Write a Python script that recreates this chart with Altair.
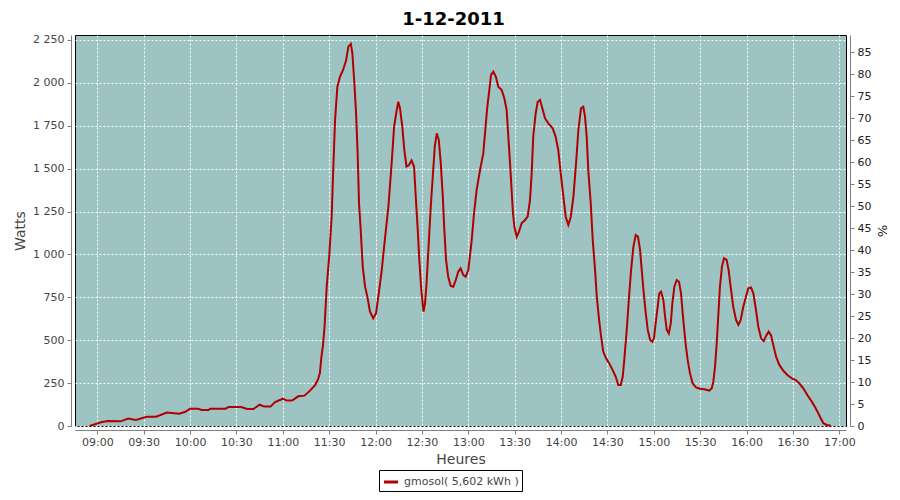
import altair as alt
import pandas as pd

title_text = "1-12-2011"
series_name = "gmosol( 5,602 kWh )"

times = [
    "08:55:00", "09:03:00", "09:07:00", "09:15:00", "09:20:00", "09:25:00", "09:32:00", "09:38:00",
    "09:45:00", "09:53:00", "09:57:00", "10:00:00", "10:05:00", "10:07:30", "10:12:00", "10:13:00",
    "10:23:00", "10:25:00", "10:33:00", "10:37:00", "10:41:00", "10:45:00", "10:48:00", "10:52:00",
    "10:55:00", "11:00:00", "11:02:30", "11:06:00", "11:10:00", "11:14:00", "11:17:36", "11:21:00",
    "11:23:00", "11:24:00", "11:25:00", "11:26:00", "11:27:00", "11:28:24", "11:30:00", "11:31:36",
    "11:32:42", "11:33:48", "11:35:18", "11:37:00", "11:39:00", "11:41:00", "11:42:24", "11:44:00",
    "11:45:00", "11:46:18", "11:47:24", "11:48:24", "11:49:18", "11:50:24", "11:51:42", "11:53:12",
    "11:54:42", "11:56:24", "11:58:30", "12:00:18", "12:01:48", "12:04:00", "12:06:00", "12:08:18",
    "12:10:24", "12:12:00", "12:13:42", "12:14:42", "12:15:48", "12:17:18", "12:18:36", "12:20:00",
    "12:21:36", "12:23:18", "12:24:54", "12:26:00", "12:27:18", "12:28:18", "12:29:36", "12:31:00",
    "12:32:00", "12:33:00", "12:34:24", "12:35:42", "12:37:00", "12:38:18", "12:39:36", "12:40:54",
    "12:42:12", "12:43:30", "12:44:30", "12:45:36", "12:47:00", "12:48:36", "12:50:18", "12:51:54",
    "12:53:30", "12:55:00", "12:56:48", "12:58:18", "13:00:00", "13:01:00", "13:02:12", "13:03:42",
    "13:05:24", "13:07:36", "13:09:42", "13:10:48", "13:12:18", "13:13:36", "13:14:42", "13:16:12",
    "13:17:48", "13:19:24", "13:21:36", "13:23:18", "13:24:48", "13:25:54", "13:27:00", "13:28:00",
    "13:28:54", "13:29:48", "13:31:18", "13:32:48", "13:34:30", "13:36:42", "13:38:24", "13:39:54",
    "13:41:00", "13:42:00", "13:43:36", "13:44:54", "13:46:24", "13:47:54", "13:49:36", "13:51:48",
    "13:54:36", "13:56:30", "13:58:12", "13:59:48", "14:01:30", "14:03:00", "14:04:42", "14:06:18",
    "14:08:00", "14:09:42", "14:11:12", "14:12:54", "14:14:24", "14:15:30", "14:16:36", "14:17:36",
    "14:19:12", "14:20:30", "14:22:00", "14:23:06", "14:24:36", "14:25:54", "14:27:18", "14:29:06",
    "14:31:12", "14:33:24", "14:35:24", "14:37:00", "14:38:36", "14:39:54", "14:40:54", "14:42:30",
    "14:44:00", "14:45:18", "14:46:48", "14:48:18", "14:49:48", "14:51:06", "14:52:12", "14:53:18",
    "14:54:48", "14:56:06", "14:57:36", "14:59:00", "15:00:06", "15:01:12", "15:02:30", "15:03:30",
    "15:04:42", "15:06:12", "15:07:18", "15:08:24", "15:09:42", "15:11:00", "15:12:00", "15:13:18",
    "15:14:48", "15:16:18", "15:17:36", "15:18:42", "15:19:42", "15:20:48", "15:21:54", "15:23:24",
    "15:25:06", "15:27:18", "15:29:54", "15:32:30", "15:34:36", "15:35:54", "15:37:30", "15:38:30",
    "15:39:36", "15:40:42", "15:41:48", "15:42:48", "15:44:06", "15:45:24", "15:47:06", "15:48:24",
    "15:49:42", "15:51:24", "15:53:12", "15:54:42", "15:56:12", "15:57:54", "15:59:36", "16:01:06",
    "16:02:54", "16:04:24", "16:06:06", "16:07:36", "16:09:24", "16:11:06", "16:12:36", "16:14:18",
    "16:15:48", "16:17:18", "16:19:06", "16:21:12", "16:23:48", "16:26:24", "16:29:18", "16:31:48",
    "16:34:06", "16:36:42", "16:39:18", "16:42:12", "16:44:42", "16:46:24", "16:48:00", "16:49:42",
    "16:51:54", "16:54:30",
]

watts = [
    0, 23, 29, 27, 43, 35, 54, 54,
    78, 72, 83, 101, 101, 93, 93, 101,
    101, 111, 111, 99, 99, 124, 113, 113,
    140, 159, 148, 148, 173, 177, 206, 239,
    278, 310, 404, 470, 580, 812, 987, 1220,
    1512, 1784, 1978, 2036, 2075, 2133, 2211, 2227,
    2172, 1998, 1823, 1590, 1298, 1142, 929, 812,
    754, 666, 628, 657, 754, 909, 1084, 1278,
    1531, 1745, 1842, 1890, 1852, 1745, 1609, 1512,
    1521, 1547, 1512, 1337, 1142, 968, 793, 666,
    715, 832, 1065, 1278, 1453, 1628, 1706, 1667,
    1531, 1337, 1142, 968, 870, 816, 812, 851,
    900, 919, 880, 870, 909, 987, 1084, 1240,
    1376, 1492, 1590, 1706, 1861, 1958, 2046, 2065,
    2036, 1978, 1958, 1910, 1842, 1686, 1531, 1376,
    1240, 1162, 1103, 1133, 1182, 1201, 1220, 1317,
    1473, 1686, 1823, 1890, 1900, 1852, 1794, 1764,
    1735, 1686, 1609, 1473, 1337, 1220, 1172, 1220,
    1337, 1531, 1725, 1852, 1861, 1803, 1686, 1492,
    1298, 1084, 909, 754, 618, 521, 433, 394,
    365, 326, 287, 239, 239, 287, 385, 560,
    754, 909, 1045, 1113, 1103, 1026, 909, 793,
    657, 560, 501, 491, 511, 599, 695, 773,
    783, 734, 637, 560, 540, 599, 715, 812,
    851, 841, 773, 657, 560, 462, 385, 307,
    249, 225, 217, 214, 210, 206, 220, 258,
    346, 482, 657, 812, 929, 977, 968, 909,
    812, 695, 618, 589, 618, 695, 754, 803,
    808, 773, 676, 579, 511, 495, 525, 550,
    530, 472, 404, 356, 322, 297, 278, 268,
    249, 220, 181, 142, 103, 74, 45, 16,
    6, 2,
]

x_tick_times = ["09:00", "09:30", "10:00", "10:30", "11:00", "11:30", "12:00", "12:30",
                "13:00", "13:30", "14:00", "14:30", "15:00", "15:30", "16:00", "16:30", "17:00"]
watt_ticks = [0, 250, 500, 750, 1000, 1250, 1500, 1750, 2000, 2250]
pct_ticks = [0, 5, 10, 15, 20, 25, 30, 35, 40, 45, 50, 55, 60, 65, 70, 75, 80, 85]
x_start, x_end = "08:45:34", "17:04:20"
watt_max = 2279
pct_max = 88.9

DAY = (2011, 12, 1)


def dt(s):
    parts = [int(p) for p in s.split(":")]
    while len(parts) < 3:
        parts.append(0)
    return alt.DateTime(year=DAY[0], month=DAY[1], date=DAY[2],
                        hours=parts[0], minutes=parts[1], seconds=parts[2], utc=True)


df = pd.DataFrame({
    "time": ["2011-12-01T%sZ" % t for t in times],
    "watts": watts,
    "series": [series_name] * len(times),
})
pct_df = pd.DataFrame({"pct": [pct_ticks[0], pct_ticks[-1]]})

FONT = "DejaVu Sans"
GREY = "#808080"
TXT = "#444444"

x_enc = alt.X(
    "time:T",
    scale=alt.Scale(type="utc", domain=[dt(x_start), dt(x_end)]),
    axis=alt.Axis(
        title="Heures", values=[dt(t) for t in x_tick_times], format="%H:%M",
        offset=4, tickSize=4, tickColor=GREY, domainColor=GREY,
        labelFont=FONT, labelFontSize=11, labelColor=TXT, labelPadding=2,
        titleFont=FONT, titleFontSize=14, titleFontWeight="normal", titleColor=TXT, titlePadding=5,
        grid=True, gridColor="white", gridDash=[2, 2], gridOpacity=1, gridWidth=1,
    ),
)

line = alt.Chart(df).mark_line(strokeWidth=2).encode(
    x=x_enc,
    y=alt.Y(
        "watts:Q",
        scale=alt.Scale(domain=[0, watt_max], nice=False, zero=True),
        axis=alt.Axis(
            title="Watts", values=watt_ticks, orient="left",
            labelExpr="replace(format(datum.value, ','), ',', ' ')",
            offset=4, tickSize=4, tickColor=GREY, domainColor=GREY,
            labelFont=FONT, labelFontSize=11, labelColor=TXT, labelPadding=3,
            titleFont=FONT, titleFontSize=14, titleFontWeight="normal", titleColor=TXT, titlePadding=5,
            grid=True, gridColor="white", gridDash=[2, 2], gridOpacity=1, gridWidth=1,
        ),
    ),
    color=alt.Color(
        "series:N",
        scale=alt.Scale(range=["#B00000"]),
        legend=alt.Legend(
            title=None, orient="none", legendX=304, legendY=435,
            strokeColor="black", padding=3, symbolType="stroke", symbolStrokeWidth=3,
            symbolSize=200, labelFont=FONT, labelFontSize=11, labelColor=TXT,
        ),
    ),
)

pct_layer = alt.Chart(pct_df).mark_point(opacity=0).encode(
    y=alt.Y(
        "pct:Q",
        scale=alt.Scale(domain=[0, pct_max], nice=False),
        axis=alt.Axis(
            title="%", values=pct_ticks, orient="right",
            offset=4, tickSize=4, tickColor=GREY, domainColor=GREY,
            labelFont=FONT, labelFontSize=11, labelColor="#222222", labelPadding=3,
            titleFont=FONT, titleFontSize=13, titleFontWeight="normal", titleColor="#222222", titlePadding=4,
            grid=False,
        ),
    ),
)

chart = alt.layer(line, pct_layer).resolve_scale(y="independent").properties(
    width=771,
    height=391,
    autosize=alt.AutoSizeParams(type="none"),
    padding={"left": 67, "top": 27, "right": 46, "bottom": 66},
    background="white",
    title=alt.TitleParams(
        text=title_text, anchor="middle", dx=-7, offset=5,
        font=FONT, fontSize=18, fontWeight="bold", color="black",
    ),
).configure_view(
    fill="#9EC3C3", stroke="black", strokeWidth=1,
)

chart.save("out.html", embed_options={"renderer": "svg", "actions": False})
